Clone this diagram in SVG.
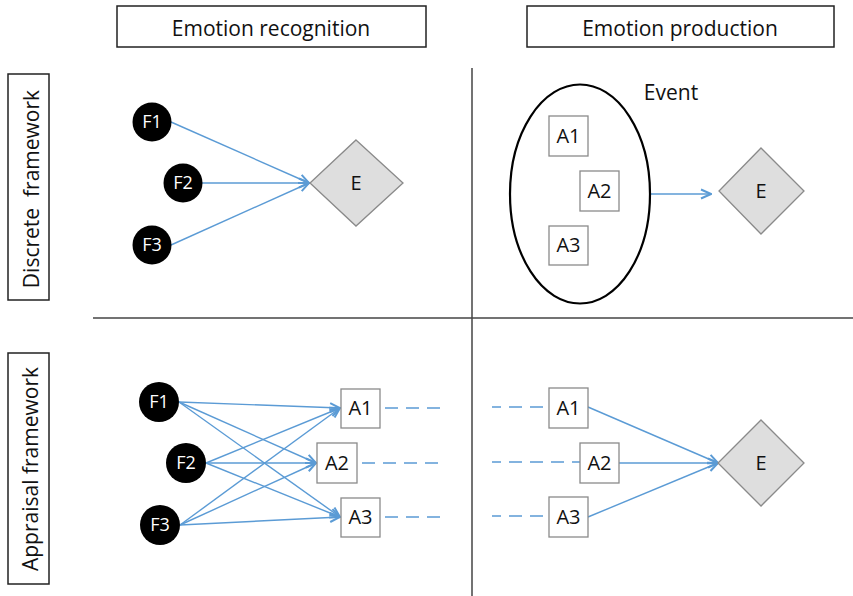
<svg xmlns="http://www.w3.org/2000/svg" width="853" height="596" viewBox="0 0 853 596">
<defs>
<style>
text{font-family:"Open Sans","Liberation Sans",sans-serif;fill:#111;text-anchor:middle;}
.hdr{font-size:21px;}
.box{fill:#fff;stroke:#222;stroke-width:1.5;}
.abox{fill:#fff;stroke:#8a8a8a;stroke-width:1.3;}
.abox-t{font-size:20px;}
.dia{fill:#dedede;stroke:#8a8a8a;stroke-width:1.3;}
.dia-t{font-size:20px;}
.fc{fill:#000;}
.fc-t{font-size:18px;fill:#fff;}
.div{stroke:#444;stroke-width:1.5;fill:none;}
.con{stroke:#5b9bd5;stroke-width:1.4;fill:none;}
.arr{marker-end:url(#ah);}
.dash{stroke:#5b9bd5;stroke-width:1.3;fill:none;stroke-dasharray:13 8;}
</style>
<marker id="ah" viewBox="0 0 12 12" refX="11" refY="6" markerWidth="12" markerHeight="12" markerUnits="userSpaceOnUse" orient="auto">
<path d="M1,1.5 L11,6 L1,10.5" fill="none" stroke="#5b9bd5" stroke-width="2"/>
</marker>
</defs>
<rect width="853" height="596" fill="#fff"/>

<g id="dividers">
<line class="div" x1="472" y1="68" x2="472" y2="596"/>
<line class="div" x1="93" y1="318" x2="853" y2="318"/>
</g>

<g id="hdr-recognition">
<rect class="box" x="117" y="6" width="309" height="41"/>
<text class="hdr" x="271" y="36">Emotion recognition</text>
</g>
<g id="hdr-production">
<rect class="box" x="527" y="6" width="307" height="41"/>
<text class="hdr" x="680" y="36">Emotion production</text>
</g>
<g id="lbl-discrete">
<rect class="box" x="8" y="74" width="41" height="226"/>
<text class="hdr" transform="translate(39,189) rotate(-90)" x="0" y="0" xml:space="preserve">Discrete  framework</text>
</g>
<g id="lbl-appraisal">
<rect class="box" x="8" y="353" width="41" height="231"/>
<text class="hdr" transform="translate(38,469) rotate(-90)" x="0" y="0">Appraisal framework</text>
</g>

<g id="connectors">
<line class="con arr" x1="171" y1="122" x2="309" y2="183"/>
<line class="con arr" x1="202" y1="183" x2="309" y2="183"/>
<line class="con arr" x1="171" y1="245" x2="309" y2="183"/>
<line class="con arr" x1="650" y1="194" x2="711" y2="194"/>
<line class="con arr" x1="179" y1="402" x2="340" y2="408"/>
<line class="con arr" x1="179" y1="402" x2="316" y2="463"/>
<line class="con arr" x1="179" y1="402" x2="340" y2="517"/>
<line class="con arr" x1="206" y1="463" x2="340" y2="408"/>
<line class="con arr" x1="206" y1="463" x2="316" y2="463"/>
<line class="con arr" x1="206" y1="463" x2="340" y2="517"/>
<line class="con arr" x1="180" y1="525" x2="340" y2="408"/>
<line class="con arr" x1="180" y1="525" x2="316" y2="463"/>
<line class="con arr" x1="180" y1="525" x2="340" y2="517"/>
<line class="dash" x1="385" y1="408" x2="443" y2="408"/>
<line class="dash" x1="362" y1="463" x2="443" y2="463"/>
<line class="dash" x1="385" y1="517" x2="443" y2="517"/>
<line class="dash" x1="492" y1="407" x2="549" y2="407" stroke-dashoffset="4"/>
<line class="dash" x1="492" y1="462" x2="580" y2="462" stroke-dashoffset="4"/>
<line class="dash" x1="492" y1="516" x2="549" y2="516" stroke-dashoffset="4"/>
<line class="con arr" x1="588" y1="407" x2="718" y2="463"/>
<line class="con arr" x1="619" y1="463" x2="718" y2="463"/>
<line class="con arr" x1="588" y1="517" x2="718" y2="463"/>
</g>

<g id="tl-F1"><circle class="fc" cx="152" cy="122" r="19.5"/><text class="fc-t" x="152" y="128">F1</text></g>
<g id="tl-F2"><circle class="fc" cx="183" cy="183" r="19.5"/><text class="fc-t" x="183" y="189">F2</text></g>
<g id="tl-F3"><circle class="fc" cx="152" cy="245" r="19.5"/><text class="fc-t" x="152" y="251">F3</text></g>
<g id="tl-E"><polygon class="dia" points="356,140 403,183 356,226 310,183"/><text class="dia-t" x="356" y="190">E</text></g>

<g id="tr-event">
<ellipse cx="580" cy="194" rx="70" ry="109.5" fill="none" stroke="#000" stroke-width="2.2"/>
<text class="hdr" x="671" y="100">Event</text>
</g>
<g id="tr-A1"><rect class="abox" x="549" y="116" width="39" height="40"/><text class="abox-t" x="568.5" y="143">A1</text></g>
<g id="tr-A2"><rect class="abox" x="580" y="171" width="39" height="40"/><text class="abox-t" x="599.5" y="198">A2</text></g>
<g id="tr-A3"><rect class="abox" x="549" y="226" width="39" height="39"/><text class="abox-t" x="568.5" y="252">A3</text></g>
<g id="tr-E"><polygon class="dia" points="761,148 804,191 761,234 719,191"/><text class="dia-t" x="761" y="198">E</text></g>

<g id="bl-F1"><circle class="fc" cx="159" cy="402" r="20"/><text class="fc-t" x="159" y="408">F1</text></g>
<g id="bl-F2"><circle class="fc" cx="186" cy="463" r="20"/><text class="fc-t" x="186" y="469">F2</text></g>
<g id="bl-F3"><circle class="fc" cx="160" cy="525" r="20"/><text class="fc-t" x="160" y="531">F3</text></g>
<g id="bl-A1"><rect class="abox" x="341" y="389" width="39" height="39"/><text class="abox-t" x="360.5" y="415">A1</text></g>
<g id="bl-A2"><rect class="abox" x="317" y="443" width="40" height="40"/><text class="abox-t" x="337" y="470">A2</text></g>
<g id="bl-A3"><rect class="abox" x="341" y="498" width="39" height="39"/><text class="abox-t" x="360.5" y="524">A3</text></g>

<g id="br-A1"><rect class="abox" x="549" y="388" width="39" height="40"/><text class="abox-t" x="568.5" y="415">A1</text></g>
<g id="br-A2"><rect class="abox" x="580" y="443" width="39" height="40"/><text class="abox-t" x="599.5" y="470">A2</text></g>
<g id="br-A3"><rect class="abox" x="549" y="497" width="39" height="40"/><text class="abox-t" x="568.5" y="524">A3</text></g>
<g id="br-E"><polygon class="dia" points="761,420 804,463 761,506 718,463"/><text class="dia-t" x="761" y="470">E</text></g>
</svg>
